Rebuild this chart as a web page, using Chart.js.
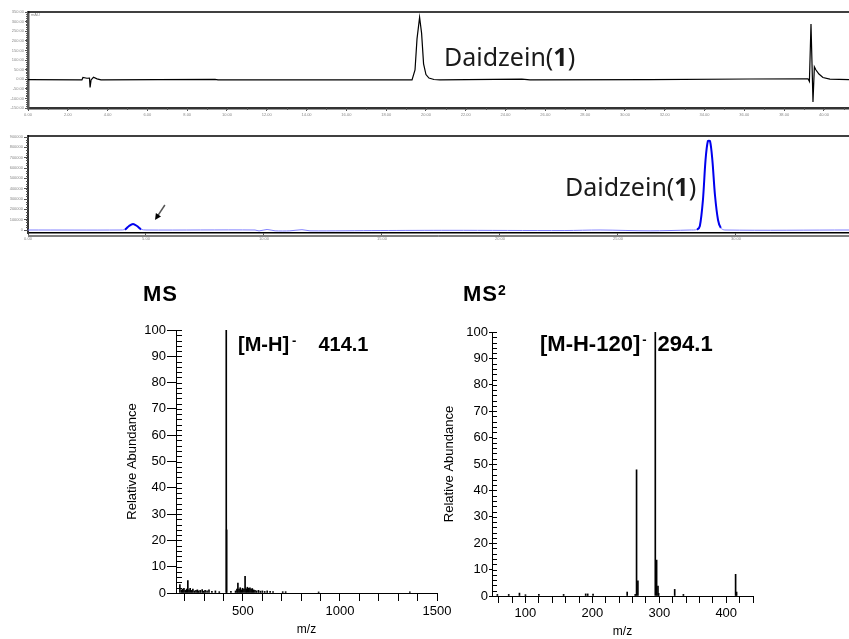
<!DOCTYPE html>
<html>
<head>
<meta charset="utf-8">
<script src="https://cdn.jsdelivr.net/npm/chart.js@4.4.1/dist/chart.umd.min.js"></script>
<style>
  body { margin: 0; background: #fff; }
  #page { position: relative; width: 849px; height: 639px; overflow: hidden; font-family: "Liberation Sans", Arial, sans-serif; }
  canvas { position: absolute; }
  .lbl { position: absolute; white-space: nowrap; line-height: 1; color: #000; }
  .cmp { font-family: "Noto Sans", sans-serif; font-size: 25px; color: #1a1a1a; }
  .ttl { font-weight: bold; font-size: 22px; letter-spacing: 1px; }
  .ion { font-weight: bold; }
  .sup { display: inline-block; vertical-align: top; font-size: 13px; line-height: 1; }
</style>
</head>
<body>
<div id="page">
  <canvas id="uv" width="849" height="118" style="left:0;top:0"></canvas>
  <canvas id="tic" width="849" height="120" style="left:0;top:125px"></canvas>
  <canvas id="ms" width="352" height="339" style="left:110px;top:300px"></canvas>
  <canvas id="ms2" width="340" height="339" style="left:440px;top:300px"></canvas>

  <div class="lbl" style="left:31px;top:13px;font-size:4px;color:#888">mAU</div>
  <div class="lbl cmp" style="left:444px;top:44px">Daidzein(<b>1</b>)</div>
  <div class="lbl cmp" style="left:565px;top:174px">Daidzein(<b>1</b>)</div>
  <div class="lbl ttl" style="left:143px;top:283px">MS</div>
  <div class="lbl ttl" style="left:463px;top:283px">MS<span class="sup" style="font-size:14px">2</span></div>
  <div class="lbl ion" style="left:238px;top:334px;font-size:20px">[M-H]<span class="sup" style="margin-left:3px">-</span><span style="margin-left:22px">414.1</span></div>
  <div class="lbl ion" style="left:540px;top:333px;font-size:22px">[M-H-120]<span class="sup" style="margin-left:2px">-</span><span style="margin-left:11px">294.1</span></div>
</div>

<script>
Chart.defaults.font.family = '"Liberation Sans", Arial, Helvetica, sans-serif';
Chart.defaults.color = '#000';
Chart.defaults.animation = false;

// --- UV chromatogram (top), time in min / signal in mAU
const uvTime   = [0, 2.71, 2.76, 2.96, 3.09, 3.12, 3.17, 3.29, 3.47, 3.67, 9.40, 9.55, 13.67, 19.30, 19.45, 19.55, 19.68, 19.78, 19.88, 20.00, 20.15, 20.40, 20.70, 24.82, 25.23, 31.26, 36.28, 39.20, 39.27, 39.35, 39.45, 39.52, 39.60, 39.75, 39.95, 40.30, 41.26];
const uvSignal = [-2, -4, 9, 5, 6, -43, -4, 10, 2, -3, -0.5, -3, -4, -4, 48, 210, 322, 240, 80, 24, 6, -1.5, -4, 0, -4, -2, 1, 2, -12, 287, -119, 64, 48, 27, 9, 0, -2];
const uvXTicks = [0, 2, 4, 6, 8, 10, 12, 14, 16, 18, 20, 22, 24, 26, 28, 30, 32, 34, 36, 38, 40];
const uvYTicks = [-150, -100, -50, 0, 50, 100, 150, 200, 250, 300, 350];

// --- ion chromatogram (second trace), time in min / intensity
const ticTime   = [0, 3.90, 4.11, 4.28, 4.45, 4.62, 4.79, 5.00, 9.62, 9.79, 10.13, 10.47, 11.10, 11.61, 11.95, 14.92, 17.88, 22.75, 24.24, 26.36, 28.05, 28.35, 28.47, 28.60, 28.71, 28.81, 28.90, 29.00, 29.11, 29.24, 29.36, 29.53, 34.79];
const ticSignal = [0, 0, 5000, 39000, 58000, 39000, 7000, 0, 0, -9000, 5000, -8000, -8000, 3000, -8000, -5000, -3000, -5000, 0, -8000, 0, 5000, 39000, 290000, 677000, 861000, 861000, 677000, 339000, 97000, 19000, 0, 0];
const ticXTicks = [0, 5, 10, 15, 20, 25, 30];
const ticYTicks = [0, 100000, 200000, 300000, 400000, 500000, 600000, 700000, 800000, 900000];
const arrowTail = [5.8, 242000];
const arrowTip  = [5.38, 97000];

// --- MS (full scan)
const msMz  = [175, 183, 190, 196, 203, 210, 216, 222, 228, 235, 242, 250, 258, 265, 272, 280, 290, 298, 305, 315, 325, 340, 358, 378, 414, 416, 438, 462, 469, 474, 480, 486, 492, 498, 505, 511, 517, 523, 530, 536, 542, 548, 555, 562, 570, 580, 590, 600, 612, 625, 640, 655, 705, 720, 890, 1360];
const msInt = [3.2, 1.2, 1.5, 1.8, 1, 1.5, 4.7, 1.2, 1.8, 1, 1.5, 0.8, 1, 1.2, 0.8, 1, 1.3, 0.7, 1, 0.8, 1.2, 0.6, 0.8, 0.5, 100, 24, 0.6, 0.8, 1.5, 3.8, 1.5, 2, 1.2, 1.8, 1.5, 6.3, 1.6, 2.2, 1.8, 2, 1.5, 1.7, 1.2, 1, 0.8, 1, 0.7, 0.8, 0.6, 0.8, 0.6, 0.5, 0.5, 0.5, 0.4, 0.4];
const msXTicks  = [200, 300, 400, 500, 600, 700, 800, 900, 1000, 1100, 1200, 1300, 1400, 1500];
const msXLabels = [500, 1000, 1500];

// --- MS2 of 414
const ms2Mz  = [58, 75, 91, 100, 120, 157, 190, 193, 201, 252, 264, 266, 268, 294, 296, 298, 299, 323, 336, 414, 415.5];
const ms2Int = [0.6, 0.6, 1.1, 0.5, 0.6, 0.6, 0.8, 0.8, 0.7, 1.5, 0.6, 47.8, 5.7, 100, 13.6, 3.8, 1, 2.5, 0.6, 8.2, 1.5];
const ms2XTicks  = [60, 80, 100, 120, 140, 160, 180, 200, 220, 240, 260, 280, 300, 320, 340, 360, 380, 400, 420, 440];
const ms2XLabels = [100, 200, 300, 400];

const abundTicks = [0, 10, 20, 30, 40, 50, 60, 70, 80, 90, 100];

const fitY = w => s => { s.width = w; s.paddingTop = 0; s.paddingBottom = 0; };
const fitX = h => s => { s.height = h; s.paddingLeft = 0; s.paddingRight = 0; };
const useTicks = list => s => { s.ticks = list.map(v => ({ value: v })); };

// extra lines: top frame, minor ticks, arrow
const extras = {
  id: 'extras',
  afterDraw(chart, args, o) {
    const ctx = chart.ctx, a = chart.chartArea;
    ctx.save();
    ctx.strokeStyle = '#000';
    if (o.topLine) {
      ctx.lineWidth = o.topLine;
      ctx.beginPath(); ctx.moveTo(a.left, a.top); ctx.lineTo(chart.width, a.top); ctx.stroke();
    }
    if (o.bottomLine) {
      ctx.lineWidth = 1;
      ctx.beginPath(); ctx.moveTo(a.left, a.bottom + o.bottomLine); ctx.lineTo(chart.width, a.bottom + o.bottomLine); ctx.stroke();
    }
    (o.minor || []).forEach(m => {
      const s = chart.scales[m.axis];
      ctx.strokeStyle = m.color || '#000';
      ctx.lineWidth = 1;
      ctx.beginPath();
      for (let v = m.min; v <= m.max + 1e-9; v += m.step) {
        const p = Math.round(s.getPixelForValue(v)) + 0.5;
        if (m.axis === 'y') {
          const x0 = m.inward ? a.left : a.left - m.len;
          ctx.moveTo(x0, p); ctx.lineTo(x0 + m.len, p);
        } else {
          const y0 = m.inward ? a.bottom - m.len : a.bottom;
          ctx.moveTo(p, y0); ctx.lineTo(p, y0 + m.len);
        }
      }
      ctx.stroke();
    });
    if (o.arrow) {
      const x = chart.scales.x, y = chart.scales.y;
      const x1 = x.getPixelForValue(o.arrow.tail[0]), y1 = y.getPixelForValue(o.arrow.tail[1]);
      const x2 = x.getPixelForValue(o.arrow.tip[0]), y2 = y.getPixelForValue(o.arrow.tip[1]);
      const ang = Math.atan2(y2 - y1, x2 - x1);
      ctx.lineWidth = 1.5;
      ctx.beginPath(); ctx.moveTo(x1, y1); ctx.lineTo(x2 - 4 * Math.cos(ang), y2 - 4 * Math.sin(ang)); ctx.stroke();
      ctx.fillStyle = '#000';
      ctx.beginPath();
      ctx.moveTo(x2, y2);
      ctx.lineTo(x2 - 7 * Math.cos(ang - 0.45), y2 - 7 * Math.sin(ang - 0.45));
      ctx.lineTo(x2 - 7 * Math.cos(ang + 0.45), y2 - 7 * Math.sin(ang + 0.45));
      ctx.closePath(); ctx.fill();
    }
    ctx.restore();
  }
};

const tinyFont = { size: 4 };

// top UV trace
new Chart(document.getElementById('uv'), {
  type: 'line',
  data: { datasets: [{ data: uvTime.map((t, i) => ({ x: t, y: uvSignal[i] })), borderColor: '#000', borderWidth: 1.2, pointRadius: 0, tension: 0 }] },
  plugins: [extras],
  options: {
    responsive: false,
    layout: { padding: { top: 12, left: 0, right: 0, bottom: 0 } },
    plugins: {
      legend: { display: false }, tooltip: { enabled: false },
      extras: { topLine: 1.5, minor: [
        { axis: 'y', min: -150, max: 350, step: 10, len: 2, color: '#555' },
        { axis: 'x', min: 0, max: 41, step: 1, len: 2, color: '#555' }
      ] }
    },
    scales: {
      x: { type: 'linear', min: 0, max: 41.26, afterFit: fitX(10), afterBuildTicks: useTicks(uvXTicks),
           border: { color: '#333', width: 2.5 }, grid: { drawOnChartArea: false, tickLength: 3, color: '#555' },
           ticks: { font: tinyFont, color: '#888', padding: 1, autoSkip: false, maxRotation: 0, callback: v => v.toFixed(2) } },
      y: { min: -150, max: 350, afterFit: fitY(28), afterBuildTicks: useTicks(uvYTicks),
           border: { color: '#555', width: 2.5 }, grid: { drawOnChartArea: false, tickLength: 3, color: '#555' },
           ticks: { font: tinyFont, color: '#888', padding: 1, autoSkip: false, callback: v => v.toFixed(2) } }
    }
  }
});

// second trace, blue
const isPeak = c => c.p0.parsed.y > 20000 || c.p1.parsed.y > 20000;
new Chart(document.getElementById('tic'), {
  type: 'line',
  data: { datasets: [{ data: ticTime.map((t, i) => ({ x: t, y: ticSignal[i] })), borderColor: '#7d7dff', borderWidth: 1, pointRadius: 0, tension: 0.3,
    segment: { borderColor: c => isPeak(c) ? '#0000ee' : '#7d7dff', borderWidth: c => isPeak(c) ? 2 : 1 } }] },
  plugins: [extras],
  options: {
    responsive: false,
    layout: { padding: { top: 11, left: 0, right: 0, bottom: 0 } },
    plugins: {
      legend: { display: false }, tooltip: { enabled: false },
      extras: { topLine: 1.5, bottomLine: 3, arrow: { tail: arrowTail, tip: arrowTip }, minor: [
        { axis: 'y', min: 0, max: 900000, step: 25000, len: 2, color: '#555' }
      ] }
    },
    scales: {
      x: { type: 'linear', min: 0, max: 34.79, afterFit: fitX(12), afterBuildTicks: useTicks(ticXTicks),
           border: { color: '#000', width: 1.5 }, grid: { drawOnChartArea: false, tickLength: 2, color: '#555' },
           ticks: { font: tinyFont, color: '#888', padding: 1, autoSkip: false, maxRotation: 0, callback: v => v.toFixed(2) } },
      y: { min: -29000, max: 910000, afterFit: fitY(28), afterBuildTicks: useTicks(ticYTicks),
           border: { color: '#333', width: 2 }, grid: { drawOnChartArea: false, tickLength: 4, color: '#555' },
           ticks: { font: tinyFont, color: '#888', padding: 1, autoSkip: false, callback: v => String(v) } }
    }
  }
});

// mass spectra as stick plots
function spectrum(id, mz, inten, opt) {
  return new Chart(document.getElementById(id), {
    type: 'bar',
    data: { datasets: [{ data: mz.map((m, i) => ({ x: m, y: inten[i] })), backgroundColor: '#000', borderWidth: 0, barThickness: 1, grouped: false }] },
    plugins: [extras],
    options: {
      responsive: false,
      layout: { padding: { top: opt.top, left: 0, right: opt.right, bottom: 0 } },
      plugins: {
        legend: { display: false }, tooltip: { enabled: false },
        extras: { minor: [{ axis: 'y', min: 0, max: 100, step: 2, len: opt.minorLen, inward: true }] }
      },
      scales: {
        x: { type: 'linear', offset: false, min: opt.xmin, max: opt.xmax, afterFit: fitX(opt.xh), afterBuildTicks: useTicks(opt.xticks),
             border: { color: '#000', width: 1 }, grid: { offset: false, drawOnChartArea: false, tickLength: opt.xTickLen, color: '#000' },
             ticks: { font: { size: 13 }, padding: 3, autoSkip: false, maxRotation: 0, callback: v => opt.xlabels.includes(v) ? String(v) : '' },
             title: { display: true, text: 'm/z', font: { size: 12 }, padding: { top: 0, bottom: opt.xtPad } } },
        y: { min: 0, max: 100, afterFit: fitY(opt.yw), afterBuildTicks: useTicks(abundTicks),
             border: { color: '#000', width: 1 }, grid: { drawOnChartArea: false, tickLength: opt.yTickLen, color: '#000' },
             ticks: { font: { size: 13 }, padding: 1, autoSkip: false },
             title: { display: true, text: 'Relative Abundance', font: { size: 13 }, padding: { top: opt.ytPad, bottom: 0 } } }
      }
    }
  });
}

spectrum('ms', msMz, msInt, { top: 30, right: 25, xh: 46, yw: 66, xmin: 155, xmax: 1500, xticks: msXTicks, xlabels: msXLabels,
  xTickLen: 8, yTickLen: 9, minorLen: 6, xtPad: 2, ytPad: 15 });
spectrum('ms2', ms2Mz, ms2Int, { top: 32, right: 27, xh: 43, yw: 52, xmin: 50, xmax: 440, xticks: ms2XTicks, xlabels: ms2XLabels,
  xTickLen: 7, yTickLen: 3, minorLen: 5, xtPad: 0, ytPad: 2 });
</script>
</body>
</html>
